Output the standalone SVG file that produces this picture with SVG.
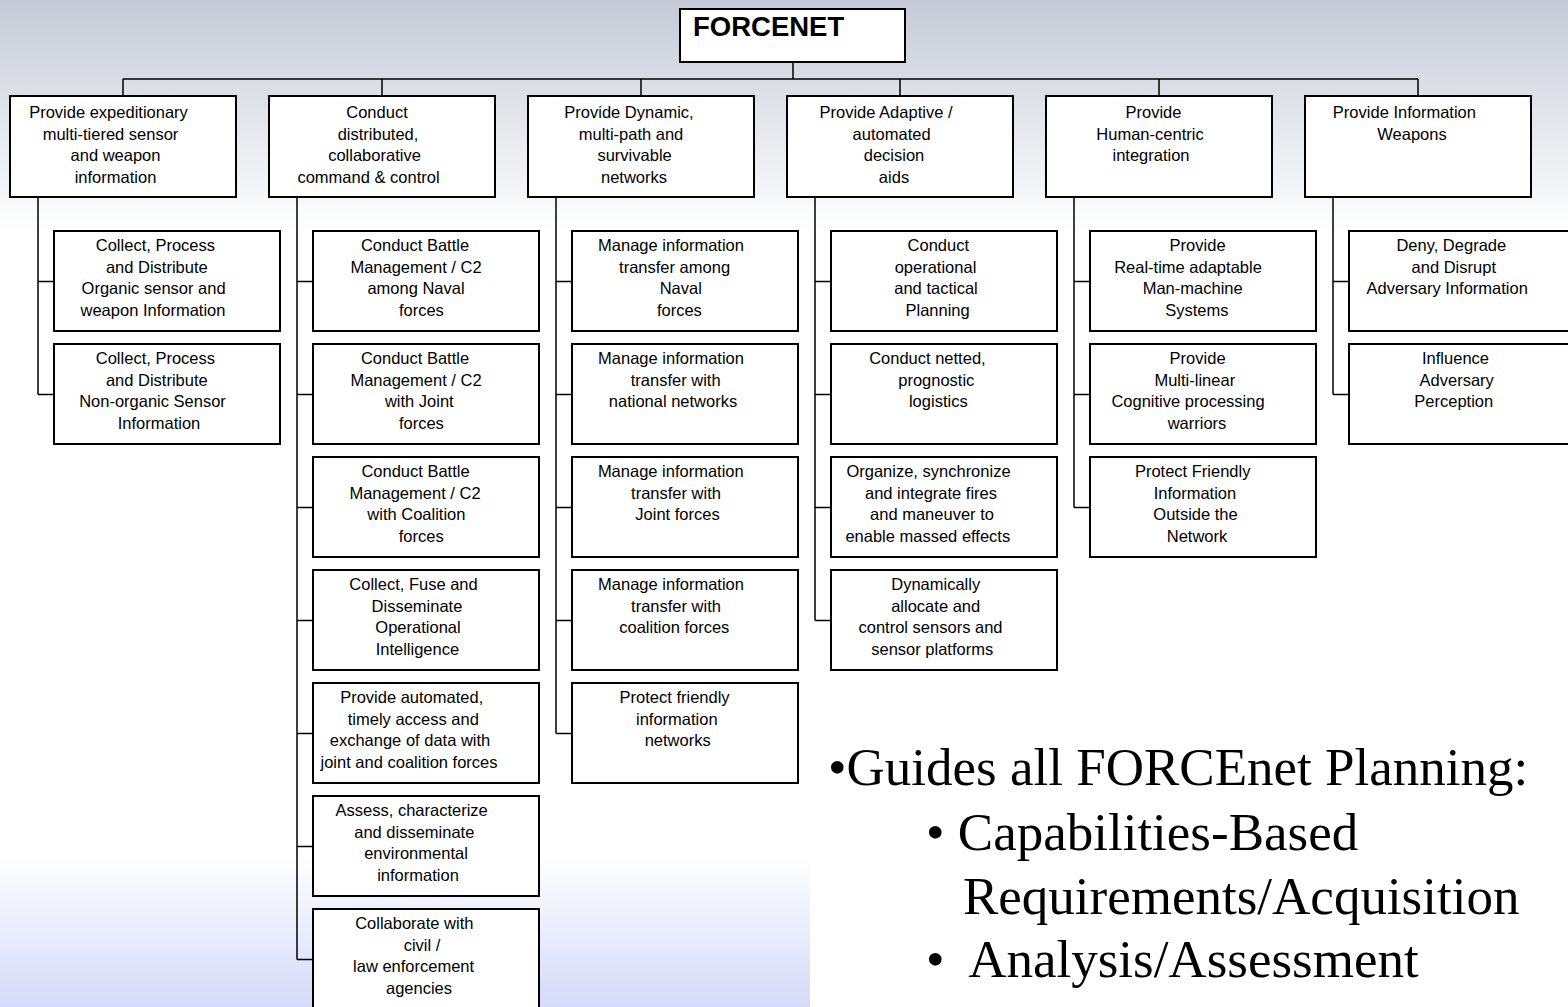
<svg xmlns="http://www.w3.org/2000/svg" width="1568" height="1007" viewBox="0 0 1568 1007">
<defs>
<linearGradient id="bg" x1="0" y1="0" x2="0" y2="1">
<stop offset="0" stop-color="#c5cad6"/>
<stop offset="0.23" stop-color="#ffffff"/>
<stop offset="0.85" stop-color="#ffffff"/>
<stop offset="1" stop-color="#d4daf8"/>
</linearGradient>
<style>
.box{fill:#fff;stroke:#000;stroke-width:2}
.t{font-family:"Liberation Sans",Arial,sans-serif;font-size:16.5px;text-anchor:middle;fill:#000}
.ln{stroke:#000;stroke-width:1.5;fill:none}
.big{font-family:"Liberation Serif","Times New Roman",serif;font-size:53px;fill:#000}
</style>
</defs>
<rect x="0" y="0" width="1568" height="1007" fill="url(#bg)"/>
<rect x="810" y="720" width="758" height="287" fill="#fff"/>

<g id="connectors" class="ln">
<path d="M793 62V79M123 79H1418M123 79V96M382 79V96M641 79V96M900 79V96M1159 79V96M1418 79V96"/>
<path d="M38 197V394.5M38 281.5H54M38 394.5H54"/>
<path d="M297 197V959.5M297 281.5H313M297 394.5H313M297 507.5H313M297 620.5H313M297 733.5H313M297 846.5H313M297 959.5H313"/>
<path d="M556 197V733.5M556 281.5H572M556 394.5H572M556 507.5H572M556 620.5H572M556 733.5H572"/>
<path d="M815 197V620.5M815 281.5H831M815 394.5H831M815 507.5H831M815 620.5H831"/>
<path d="M1074 197V507.5M1074 281.5H1090M1074 394.5H1090M1074 507.5H1090"/>
<path d="M1333 197V394.5M1333 281.5H1349M1333 394.5H1349"/>
</g>

<g id="forcenet">
<rect class="box" x="680" y="9" width="225" height="53"/>
<text x="693" y="36" style="font-family:'Liberation Sans',Arial,sans-serif;font-size:27.5px;font-weight:bold">FORCENET</text>
</g>

<g id="l1-1"><rect class="box" x="10" y="96" width="226" height="101"/>
<text class="t"><tspan x="108.5" y="118">Provide expeditionary</tspan><tspan x="110.5" y="139.5">multi-tiered sensor</tspan><tspan x="115.5" y="161">and weapon</tspan><tspan x="115.5" y="182.5">information</tspan></text></g>
<g id="l1-2"><rect class="box" x="269" y="96" width="226" height="101"/>
<text class="t"><tspan x="377" y="118">Conduct</tspan><tspan x="378" y="139.5">distributed,</tspan><tspan x="374.5" y="161">collaborative</tspan><tspan x="368.5" y="182.5">command &amp; control</tspan></text></g>
<g id="l1-3"><rect class="box" x="528" y="96" width="226" height="101"/>
<text class="t"><tspan x="629" y="118">Provide Dynamic,</tspan><tspan x="631" y="139.5">multi-path and</tspan><tspan x="634.6" y="161">survivable</tspan><tspan x="634" y="182.5">networks</tspan></text></g>
<g id="l1-4"><rect class="box" x="787" y="96" width="226" height="101"/>
<text class="t"><tspan x="886" y="118">Provide Adaptive /</tspan><tspan x="891.6" y="139.5">automated</tspan><tspan x="894" y="161">decision</tspan><tspan x="894" y="182.5">aids</tspan></text></g>
<g id="l1-5"><rect class="box" x="1046" y="96" width="226" height="101"/>
<text class="t"><tspan x="1153.5" y="118">Provide</tspan><tspan x="1150" y="139.5">Human-centric</tspan><tspan x="1151" y="161">integration</tspan></text></g>
<g id="l1-6"><rect class="box" x="1305" y="96" width="226" height="101"/>
<text class="t"><tspan x="1404.4" y="118">Provide Information</tspan><tspan x="1412" y="139.5">Weapons</tspan></text></g>

<g id="c1-1"><rect class="box" x="54" y="231" width="226" height="100"/>
<text class="t"><tspan x="155.4" y="251">Collect, Process</tspan><tspan x="156.8" y="272.5">and Distribute</tspan><tspan x="153.6" y="294">Organic sensor and</tspan><tspan x="153" y="315.5">weapon Information</tspan></text></g>
<g id="c1-2"><rect class="box" x="54" y="344" width="226" height="100"/>
<text class="t"><tspan x="155.4" y="364">Collect, Process</tspan><tspan x="156.8" y="385.5">and Distribute</tspan><tspan x="152.5" y="407">Non-organic Sensor</tspan><tspan x="159" y="428.5">Information</tspan></text></g>

<g id="c2-1"><rect class="box" x="313" y="231" width="226" height="100"/>
<text class="t"><tspan x="415" y="251">Conduct Battle</tspan><tspan x="416" y="272.5">Management / C2</tspan><tspan x="416" y="294">among Naval</tspan><tspan x="421.4" y="315.5">forces</tspan></text></g>
<g id="c2-2"><rect class="box" x="313" y="344" width="226" height="100"/>
<text class="t"><tspan x="415" y="364">Conduct Battle</tspan><tspan x="416" y="385.5">Management / C2</tspan><tspan x="419.3" y="407">with Joint</tspan><tspan x="421.4" y="428.5">forces</tspan></text></g>
<g id="c2-3"><rect class="box" x="313" y="457" width="226" height="100"/>
<text class="t"><tspan x="415.5" y="477">Conduct Battle</tspan><tspan x="415" y="498.5">Management / C2</tspan><tspan x="416.4" y="520">with Coalition</tspan><tspan x="421.2" y="541.5">forces</tspan></text></g>
<g id="c2-4"><rect class="box" x="313" y="570" width="226" height="100"/>
<text class="t"><tspan x="413.5" y="590">Collect, Fuse and</tspan><tspan x="417" y="611.5">Disseminate</tspan><tspan x="418" y="633">Operational</tspan><tspan x="417.4" y="654.5">Intelligence</tspan></text></g>
<g id="c2-5"><rect class="box" x="313" y="683" width="226" height="100"/>
<text class="t"><tspan x="411.7" y="703">Provide automated,</tspan><tspan x="413.3" y="724.5">timely access and</tspan><tspan x="410" y="746">exchange of data with</tspan><tspan x="409" y="767.5">joint and coalition forces</tspan></text></g>
<g id="c2-6"><rect class="box" x="313" y="796" width="226" height="100"/>
<text class="t"><tspan x="411.7" y="816">Assess, characterize</tspan><tspan x="414.3" y="837.5">and disseminate</tspan><tspan x="416" y="859">environmental</tspan><tspan x="418" y="880.5">information</tspan></text></g>
<g id="c2-7"><rect class="box" x="313" y="909" width="226" height="100"/>
<text class="t"><tspan x="414.3" y="929">Collaborate with</tspan><tspan x="422" y="950.5">civil /</tspan><tspan x="413.6" y="972">law enforcement</tspan><tspan x="419" y="993.5">agencies</tspan></text></g>

<g id="c3-1"><rect class="box" x="572" y="231" width="226" height="100"/>
<text class="t"><tspan x="671" y="251">Manage information</tspan><tspan x="674.6" y="272.5">transfer among</tspan><tspan x="680.8" y="294">Naval</tspan><tspan x="679.4" y="315.5">forces</tspan></text></g>
<g id="c3-2"><rect class="box" x="572" y="344" width="226" height="100"/>
<text class="t"><tspan x="671" y="364">Manage information</tspan><tspan x="675.7" y="385.5">transfer with</tspan><tspan x="673" y="407">national networks</tspan></text></g>
<g id="c3-3"><rect class="box" x="572" y="457" width="226" height="100"/>
<text class="t"><tspan x="670.8" y="477">Manage information</tspan><tspan x="676" y="498.5">transfer with</tspan><tspan x="677.5" y="520">Joint forces</tspan></text></g>
<g id="c3-4"><rect class="box" x="572" y="570" width="226" height="100"/>
<text class="t"><tspan x="671" y="590">Manage information</tspan><tspan x="676" y="611.5">transfer with</tspan><tspan x="674.3" y="633">coalition forces</tspan></text></g>
<g id="c3-5"><rect class="box" x="572" y="683" width="226" height="100"/>
<text class="t"><tspan x="674.6" y="703">Protect friendly</tspan><tspan x="676.8" y="724.5">information</tspan><tspan x="677.7" y="746">networks</tspan></text></g>

<g id="c4-1"><rect class="box" x="831" y="231" width="226" height="100"/>
<text class="t"><tspan x="938.3" y="251">Conduct</tspan><tspan x="935.5" y="272.5">operational</tspan><tspan x="936" y="294">and tactical</tspan><tspan x="937.6" y="315.5">Planning</tspan></text></g>
<g id="c4-2"><rect class="box" x="831" y="344" width="226" height="100"/>
<text class="t"><tspan x="927.4" y="364">Conduct netted,</tspan><tspan x="936.3" y="385.5">prognostic</tspan><tspan x="938.3" y="407">logistics</tspan></text></g>
<g id="c4-3"><rect class="box" x="831" y="457" width="226" height="100"/>
<text class="t"><tspan x="928.5" y="477">Organize, synchronize</tspan><tspan x="931" y="498.5">and integrate fires</tspan><tspan x="932" y="520">and maneuver to</tspan><tspan x="927.8" y="541.5">enable massed effects</tspan></text></g>
<g id="c4-4"><rect class="box" x="831" y="570" width="226" height="100"/>
<text class="t"><tspan x="935.7" y="590">Dynamically</tspan><tspan x="935.7" y="611.5">allocate and</tspan><tspan x="930.5" y="633">control sensors and</tspan><tspan x="932.2" y="654.5">sensor platforms</tspan></text></g>

<g id="c5-1"><rect class="box" x="1090" y="231" width="226" height="100"/>
<text class="t"><tspan x="1197.6" y="251">Provide</tspan><tspan x="1188" y="272.5">Real-time adaptable</tspan><tspan x="1192.7" y="294">Man-machine</tspan><tspan x="1196.8" y="315.5">Systems</tspan></text></g>
<g id="c5-2"><rect class="box" x="1090" y="344" width="226" height="100"/>
<text class="t"><tspan x="1197.6" y="364">Provide</tspan><tspan x="1194.8" y="385.5">Multi-linear</tspan><tspan x="1188" y="407">Cognitive processing</tspan><tspan x="1197" y="428.5">warriors</tspan></text></g>
<g id="c5-3"><rect class="box" x="1090" y="457" width="226" height="100"/>
<text class="t"><tspan x="1192.7" y="477">Protect Friendly</tspan><tspan x="1194.9" y="498.5">Information</tspan><tspan x="1195.5" y="520">Outside the</tspan><tspan x="1197" y="541.5">Network</tspan></text></g>

<g id="c6-1"><rect class="box" x="1349" y="231" width="226" height="100"/>
<text class="t"><tspan x="1451.3" y="251">Deny, Degrade</tspan><tspan x="1453.8" y="272.5">and Disrupt</tspan><tspan x="1447.2" y="294">Adversary Information</tspan></text></g>
<g id="c6-2"><rect class="box" x="1349" y="344" width="226" height="100"/>
<text class="t"><tspan x="1455.5" y="364">Influence</tspan><tspan x="1456.7" y="385.5">Adversary</tspan><tspan x="1453.8" y="407">Perception</tspan></text></g>

<g id="notes">
<text class="big" x="828" y="785">•Guides all FORCEnet Planning:</text>
<text class="big" x="926" y="850">• Capabilities-Based</text>
<text class="big" x="963" y="914">Requirements/Acquisition</text>
<text class="big" x="926" y="977" xml:space="preserve">•  Analysis/Assessment</text>
</g>
</svg>
